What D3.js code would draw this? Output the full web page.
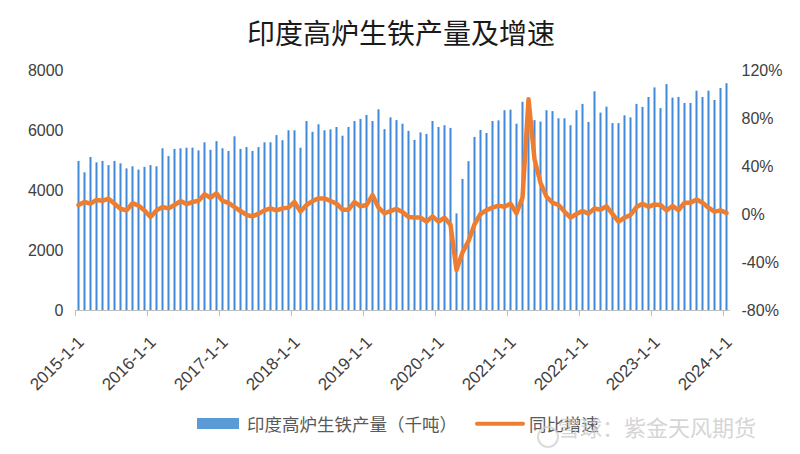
<!DOCTYPE html>
<html><head><meta charset="utf-8">
<script src="https://cdn.jsdelivr.net/npm/d3@7"></script>
<style>body{margin:0;background:#fff;}svg{display:block;}</style>
</head><body><svg id="c" width="800" height="454"></svg>
<script>
const title = "印度高炉生铁产量及增速";
const seriesBarName = "印度高炉生铁产量（千吨）";
const seriesLineName = "同比增速";
const watermark = "雪球：紫金天风期货";
const startYear = 2015;
// monthly production (kt), 2015-01 .. 2024-01
const production = [
 4970,4590,5100,4920,4970,4830,4970,4890,4720,4790,4680,4770,
 4830,4790,5390,5130,5370,5390,5410,5410,5320,5590,5340,5630,
 5390,5300,5790,5370,5430,5300,5430,5590,5590,5830,5660,5990,
 5990,5410,6300,5940,6190,5990,6020,6100,5810,6100,6300,6370,
 6500,6300,6690,6030,6420,6330,6210,5970,5670,5920,5870,6300,
 6100,6160,6070,3220,4370,4960,5770,6000,5900,6300,6320,6660,
 6680,6210,6940,6300,6330,6280,6660,6630,6390,6390,6160,6660,
 6870,6270,7290,6580,6780,6230,6230,6490,6420,6870,6770,7100,
 7420,6730,7530,7080,7100,6900,6900,7310,7100,7310,7000,7400,
 7560
];
// year-on-year growth (%)
const yoy = [
 7.5,10,8.6,11.7,11,12.8,8.6,4.4,3,9,7,3,
 -2.5,3,5.8,4.7,7.5,10.8,8.3,10,11,16.4,13.6,17.2,
 11,9.2,5.8,2.5,-0.8,-2,0.3,3,4.7,3,4.7,5.3,
 10,2,7.5,10.8,13,13,10.8,8.6,3.6,3.6,10,6.4,
 7.5,15.8,5.3,0.6,2.5,4.2,1.7,-2.5,-3,-3,-6.4,-2,
 -6.4,-3,-9,-46.7,-32,-22.5,-8.6,0,3.3,5.3,7,6,
 8.6,0.6,13.6,95.6,45.6,26,14.4,9.4,7.5,2,-3,0,
 2.5,0.3,4.7,3.6,6.4,0,-6.4,-3,-0.8,5.8,8.6,6,
 8,7.5,3,6.7,3.3,9.4,9.4,12,9.4,5.3,2,3,
 0.8
];
const leftTicks = [0,2000,4000,6000,8000];
const rightTicks = [-80,-40,0,40,80,120];
const dates = production.map((d,i)=>({y: startYear + Math.floor(i/12), m: i%12 + 1}));
const xLabels = dates.filter(d=>d.m===1).map(d=>`${d.y}-1-1`);

const svg = d3.select("#c");
const L = 75.5, R = 729.5, T = 70, B = 310;
const x = d3.scaleBand().domain(d3.range(production.length)).range([L, R]).padding(0);
const yL = d3.scaleLinear().domain([0, 8000]).range([B, T]);
const yR = d3.scaleLinear().domain([-80, 120]).range([B, T]);
const font = "'Liberation Sans', Arial, sans-serif";
const cjk = "'Noto Sans CJK SC', 'Noto Sans', sans-serif";

// title
svg.append("text").attr("x", 401).attr("y", 44).attr("text-anchor","middle")
  .attr("font-family", cjk).attr("font-size", 28).attr("fill","#1a1a1a").text(title);

// bars
svg.append("g").selectAll("rect").data(production).join("rect")
  .attr("x", (d,i)=> x(i) + x.bandwidth()/2 - 1)
  .attr("width", 2)
  .attr("y", d=>yL(d))
  .attr("height", d=> yL(0) - yL(d))
  .attr("fill", "#4189d9");

// x axis
const janIdx = d3.range(production.length).filter(i=>dates[i].m===1);
const xAxis = d3.axisBottom(x).tickValues(janIdx).tickSize(6).tickFormat("");
const gx = svg.append("g").attr("transform", `translate(0,${B})`).call(xAxis);
gx.select(".domain").attr("stroke","#bfbfbf").attr("d", `M${L},0.5H${R}`);
gx.selectAll(".tick").attr("transform", d=>`translate(${x(d)},0)`);
gx.selectAll(".tick line").attr("stroke","#bfbfbf");
svg.append("g").selectAll("text").data(janIdx).join("text")
  .attr("transform", (d)=>`translate(${x(d)+5.3},339) rotate(-45)`)
  .attr("text-anchor","end").attr("dy","0.35em")
  .attr("font-family", font).attr("font-size", 17).attr("fill","#404040")
  .text((d,k)=> xLabels[k]);

// left axis
const gl = svg.append("g").attr("transform", `translate(${L},0)`)
  .call(d3.axisLeft(yL).tickValues(leftTicks).tickSize(0).tickPadding(12).tickFormat(d3.format("d")));
gl.select(".domain").remove();
gl.selectAll("text").attr("font-family", font).attr("font-size", 16).attr("fill","#404040");

// right axis
const gr = svg.append("g").attr("transform", `translate(${R},0)`)
  .call(d3.axisRight(yR).tickValues(rightTicks).tickSize(0).tickPadding(12).tickFormat(d=>d+"%"));
gr.select(".domain").remove();
gr.selectAll("text").attr("font-family", font).attr("font-size", 16).attr("fill","#404040");

// line
const line = d3.line().x((d,i)=> x(i) + x.bandwidth()/2).y(d=>yR(d));
svg.append("path").datum(yoy).attr("d", line).attr("fill","none")
  .attr("stroke","#ed7d31").attr("stroke-width",4.5).attr("stroke-linejoin","round").attr("stroke-linecap","round");

// legend
const lg = svg.append("g");
lg.append("rect").attr("x",197).attr("y",418).attr("width",42).attr("height",11).attr("fill","#5b9bd5");
lg.append("text").attr("x",247).attr("y",430.5).attr("font-family",cjk).attr("font-size",17.5)
  .attr("fill","#595959").text(seriesBarName);
lg.append("line").attr("x1",477).attr("x2",523).attr("y1",423.7).attr("y2",423.7)
  .attr("stroke","#ed7d31").attr("stroke-width",4).attr("stroke-linecap","round");
lg.append("text").attr("x",529).attr("y",430.5).attr("font-family",cjk).attr("font-size",17.5)
  .attr("fill","#595959").text(seriesLineName);

// watermark
const wm = svg.append("g").attr("opacity",0.75);
wm.append("circle").attr("cx",548).attr("cy",437).attr("r",10).attr("fill","none").attr("stroke","#d0d0d0").attr("stroke-width",2);
wm.append("text").attr("x",558).attr("y",436).attr("font-family",cjk).attr("font-size",22)
  .attr("fill","#c8c8c8").text(watermark);
</script></body></html>
